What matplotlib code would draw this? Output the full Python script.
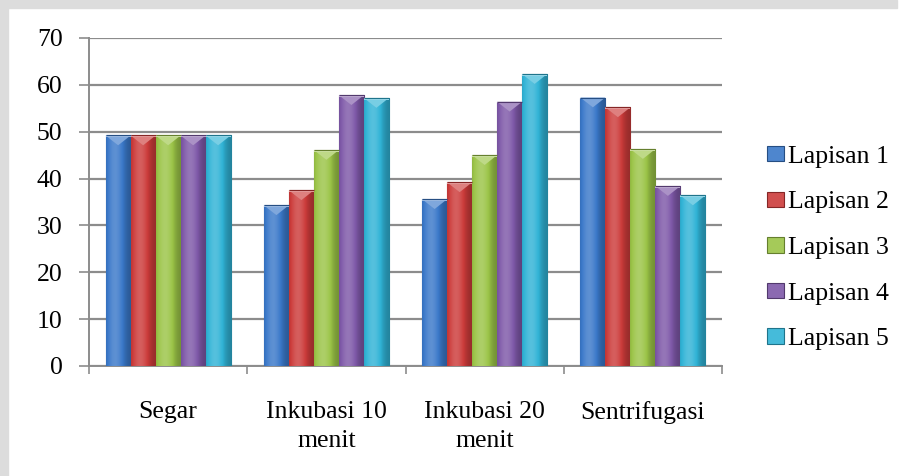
import numpy as np
import matplotlib
matplotlib.use("Agg")
import matplotlib.pyplot as plt
from matplotlib.patches import Polygon, Patch, Rectangle
from matplotlib.colors import to_rgb

categories = ["Segar", "Inkubasi 10\nmenit", "Inkubasi 20\nmenit", "Sentrifugasi"]
series_names = ["Lapisan 1", "Lapisan 2", "Lapisan 3", "Lapisan 4", "Lapisan 5"]
lapisan_1 = [49.2, 34.3, 35.6, 57.3]
lapisan_2 = [49.2, 37.5, 39.2, 55.2]
lapisan_3 = [49.2, 46.1, 45.0, 46.3]
lapisan_4 = [49.2, 57.8, 56.4, 38.4]
lapisan_5 = [49.2, 57.2, 62.3, 36.4]
series_values = [lapisan_1, lapisan_2, lapisan_3, lapisan_4, lapisan_5]
y_ticks = [0, 10, 20, 30, 40, 50, 60, 70]

colors = ["#3A78C9", "#CC3B3A", "#9BC447", "#7E58A8", "#30B3D6"]

plt.rcParams["font.family"] = ["Liberation Serif", "DejaVu Serif"]

fig = plt.figure(figsize=(9.01, 4.76), dpi=100)
fig.patch.set_facecolor("white")
ax = fig.add_axes([89 / 901, 1 - 366 / 476, (722 - 89) / 901, (366 - 38) / 476])

# faint page border strips
fig.patches.append(Rectangle((0, 0), 8 / 901, 1, transform=fig.transFigure,
                             color="#dcdcdc", zorder=-5))
fig.patches.append(Rectangle((0, 1 - 8 / 476), 897 / 901, 8 / 476, transform=fig.transFigure,
                             color="#dcdcdc", zorder=-5))


def mix(c, other, t):
    c = np.array(to_rgb(c))
    o = np.array(to_rgb(other))
    return c * (1 - t) + o * t


n_series = len(series_values)
bar_w = 0.158
x = np.arange(len(categories))

for i, (vals, col) in enumerate(zip(series_values, colors)):
    offs = (i - (n_series - 1) / 2) * bar_w
    bars = ax.bar(x + offs, vals, width=bar_w, color=col,
                  edgecolor=mix(col, "black", 0.35), linewidth=0.8, zorder=3)
    # cylinder-like horizontal shading across each bar
    n = 64
    t = np.linspace(0, 1, n)
    light = np.exp(-((t - 0.35) / 0.35) ** 2)
    grad = np.zeros((1, n, 4))
    for k in range(n):
        if light[k] > 0.5:
            c = mix(col, "white", 0.18 * (light[k] - 0.5) * 2)
        else:
            c = mix(col, "black", 0.28 * (0.5 - light[k]) * 2)
        grad[0, k, :3] = c
        grad[0, k, 3] = 1
    for b in bars:
        bx, bw, bh = b.get_x(), b.get_width(), b.get_height()
        im = ax.imshow(grad, extent=[bx, bx + bw, 0, bh], aspect="auto",
                       interpolation="bicubic", zorder=3.1)
        im.set_clip_path(b)
        # bevelled top facet
        d = 2.1
        tri = Polygon([(bx, bh), (bx + bw, bh), (bx + bw / 2, bh - d)],
                      closed=True, facecolor=mix(col, "white", 0.35),
                      edgecolor="none", zorder=3.2)
        ax.add_patch(tri)
        ax.add_patch(Rectangle((bx, bh - 0.35), bw, 0.35,
                               facecolor=mix(col, "white", 0.5),
                               edgecolor="none", zorder=3.3))
        ax.add_patch(Rectangle((bx, bh), bw, 0.0, fill=False,
                               edgecolor=mix(col, "black", 0.35), lw=0.8, zorder=3.4))

ax.set_xlim(-0.5, len(categories) - 0.5)
ax.set_ylim(0, 70)
ax.set_yticks(y_ticks)
ax.set_yticklabels([str(v) for v in y_ticks], fontsize=18.5)
ax.yaxis.grid(True, color="#8c8c8c", linewidth=1.6, zorder=0)
ax.set_axisbelow(True)

ax.set_xticks(np.arange(len(categories) + 1) - 0.5, minor=False)
ax.set_xticklabels([])
ax.set_xticks(x, minor=True)
ax.set_xticklabels(categories, minor=True, fontsize=18.5, linespacing=1.42)
ax.tick_params(axis="x", which="minor", length=0, pad=25)
ax.tick_params(axis="x", which="major", length=6, width=1.2, color="#8c8c8c", direction="out")
ax.tick_params(axis="y", length=7, width=1.2, color="#8c8c8c", direction="out", pad=12)

for s in ["top", "right"]:
    ax.spines[s].set_visible(False)
for s in ["left", "bottom"]:
    ax.spines[s].set_color("#8c8c8c")
    ax.spines[s].set_linewidth(1.4)

handles = [Patch(facecolor=mix(c, "white", 0.1), edgecolor=mix(c, "black", 0.35), lw=0.8)
           for c in colors]
leg = fig.legend(handles, series_names, loc="center left",
                 bbox_to_anchor=(757 / 901, 1 - 248 / 476), frameon=False,
                 fontsize=18.5, handlelength=0.65, handleheight=0.55,
                 handletextpad=0.15, labelspacing=0.92, borderaxespad=0)

fig.savefig("out.png", dpi=100, facecolor="white")
